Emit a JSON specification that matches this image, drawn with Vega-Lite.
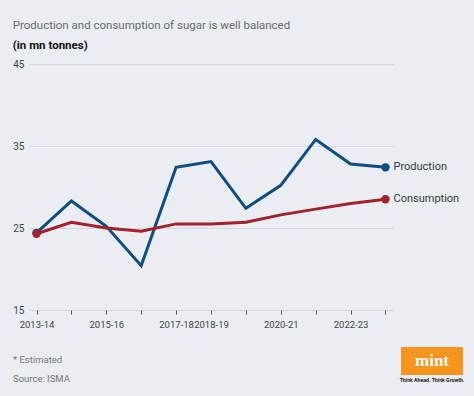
{
  "$schema": "https://vega.github.io/schema/vega-lite/v6.json",
  "background": "#eaedf2",
  "padding": {"left": 12, "top": 20, "right": 10, "bottom": 4},
  "config": {"font": "Roboto", "view": {"stroke": null}},
  "title": {
    "text": "Production and consumption of sugar is well balanced",
    "subtitle": "(in mn tonnes)",
    "anchor": "start",
    "frame": "bounds",
    "fontSize": 11.5,
    "fontWeight": "normal",
    "color": "#6b6b6b",
    "subtitleFontSize": 11.5,
    "subtitleFontWeight": "bold",
    "subtitleColor": "#111111",
    "subtitlePadding": 8,
    "offset": 8
  },
  "spacing": 18,
  "datasets": {
    "sugar": [
      {"year": "2013-14", "series": "Production", "value": 24.4},
      {"year": "2014-15", "series": "Production", "value": 28.3},
      {"year": "2015-16", "series": "Production", "value": 25.2},
      {"year": "2016-17", "series": "Production", "value": 20.4},
      {"year": "2017-18", "series": "Production", "value": 32.4},
      {"year": "2018-19", "series": "Production", "value": 33.1},
      {"year": "2019-20", "series": "Production", "value": 27.4},
      {"year": "2020-21", "series": "Production", "value": 30.2},
      {"year": "2021-22", "series": "Production", "value": 35.8},
      {"year": "2022-23", "series": "Production", "value": 32.8},
      {"year": "2023-24", "series": "Production", "value": 32.4},
      {"year": "2013-14", "series": "Consumption", "value": 24.3},
      {"year": "2014-15", "series": "Consumption", "value": 25.7},
      {"year": "2015-16", "series": "Consumption", "value": 25.0},
      {"year": "2016-17", "series": "Consumption", "value": 24.6},
      {"year": "2017-18", "series": "Consumption", "value": 25.5},
      {"year": "2018-19", "series": "Consumption", "value": 25.5},
      {"year": "2019-20", "series": "Consumption", "value": 25.7},
      {"year": "2020-21", "series": "Consumption", "value": 26.6},
      {"year": "2021-22", "series": "Consumption", "value": 27.3},
      {"year": "2022-23", "series": "Consumption", "value": 28.0},
      {"year": "2023-24", "series": "Consumption", "value": 28.5}
    ],
    "notes": [
      {"note": "* Estimated"},
      {"note": "Source: ISMA"}
    ],
    "logo": [
      {"brand": "mint"}
    ]
  },
  "vconcat": [
    {
      "width": 364,
      "height": 246,
      "data": {"name": "sugar"},
      "encoding": {
        "x": {
          "field": "year",
          "type": "ordinal",
          "scale": {"type": "point", "padding": 0.215},
          "axis": {
            "title": null,
            "grid": false,
            "domain": false,
            "ticks": true,
            "tickSize": 4,
            "tickColor": "#555555",
            "labelAngle": 0,
            "labelFontSize": 9.5,
            "labelColor": "#444444",
            "labelPadding": 5,
            "labelOverlap": false,
            "labelExpr": "indexof(['2013-14','2015-16','2017-18','2018-19','2020-21','2022-23'], datum.label) >= 0 ? datum.label : ''"
          }
        },
        "y": {
          "field": "value",
          "type": "quantitative",
          "scale": {"domain": [15, 45]},
          "axis": {
            "title": null,
            "values": [15, 25, 35, 45],
            "ticks": false,
            "domain": false,
            "minExtent": 0,
            "labelPadding": 5,
            "labelFontSize": 10,
            "labelColor": "#444444",
            "gridColor": "#d4d8de",
            "gridWidth": 1
          }
        },
        "color": {
          "field": "series",
          "type": "nominal",
          "scale": {"domain": ["Production", "Consumption"], "range": ["#0d4d85", "#a3202c"]},
          "legend": null
        }
      },
      "layer": [
        {"mark": {"type": "line", "strokeWidth": 3}},
        {
          "transform": [{"filter": "datum.year == '2013-14' || datum.year == '2023-24'"}],
          "mark": {"type": "circle", "size": 70, "opacity": 1}
        },
        {
          "transform": [{"filter": "datum.year == '2023-24'"}],
          "mark": {"type": "text", "align": "left", "baseline": "middle", "dx": 8, "fontSize": 11},
          "encoding": {"text": {"field": "series"}, "color": {"value": "#3a3a3a"}}
        }
      ]
    },
    {
      "spacing": 8,
      "bounds": "flush",
      "hconcat": [
        {
          "width": 364,
          "height": 45,
          "data": {"name": "notes"},
          "mark": {"type": "text", "align": "left", "baseline": "middle", "fontSize": 9.5, "color": "#777777", "dx": -16},
          "encoding": {
            "x": {"datum": 0, "type": "quantitative", "scale": {"domain": [0, 1]}, "axis": null},
            "y": {"field": "note", "type": "nominal", "sort": null, "scale": {"type": "point", "padding": 0.684}, "axis": null},
            "text": {"field": "note"}
          }
        },
        {
          "width": 62,
          "height": 28,
          "view": {"fill": "#f7941e", "stroke": null},
          "data": {"name": "logo"},
          "mark": {"type": "text", "font": "Liberation Serif", "fontWeight": "bold", "fontSize": 17, "color": "#ffffff", "baseline": "middle", "align": "center"},
          "encoding": {"text": {"field": "brand"}},
          "title": {"text": "Think Ahead. Think Growth.", "orient": "bottom", "fontSize": 5.2, "fontWeight": "bold", "color": "#222222", "offset": 3, "anchor": "middle"}
        }
      ]
    }
  ]
}
